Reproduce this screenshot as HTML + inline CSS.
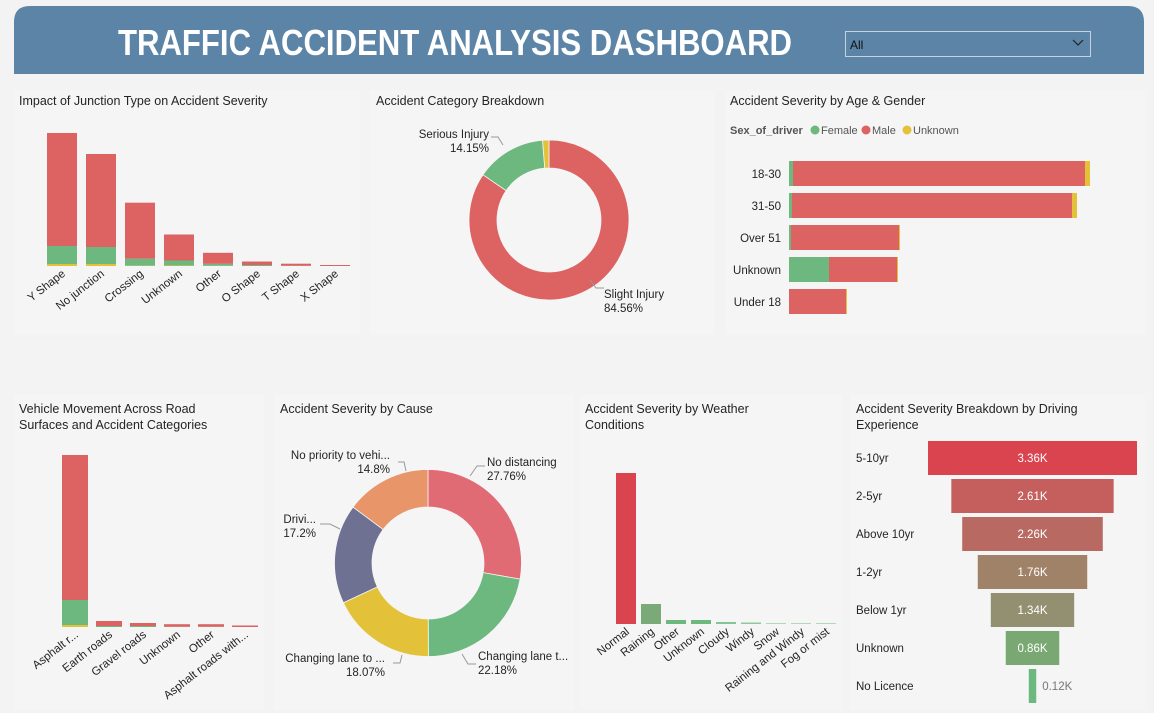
<!DOCTYPE html>
<html><head><meta charset="utf-8"><style>
html,body{margin:0;padding:0;background:#f3f3f3;}
svg{display:block;font-family:"Liberation Sans",sans-serif;}
.t{font-size:12.5px;fill:#252423;}
</style></head><body>
<svg id="s" width="1154" height="713" viewBox="0 0 1154 713" xmlns="http://www.w3.org/2000/svg">
<rect x="0" y="0" width="1154" height="713" fill="#f3f3f3"/>
<rect x="14" y="90" width="346" height="245" fill="#f5f5f5"/>
<rect x="370" y="90" width="345" height="245" fill="#f5f5f5"/>
<rect x="725" y="90" width="420" height="245" fill="#f5f5f5"/>
<rect x="14" y="395" width="250" height="315" fill="#f5f5f5"/>
<rect x="274" y="395" width="300" height="315" fill="#f5f5f5"/>
<rect x="580" y="395" width="262" height="315" fill="#f5f5f5"/>
<rect x="850" y="395" width="295" height="315" fill="#f5f5f5"/>
<path d="M14 74 V22 Q14 6 30 6 H1128 Q1144 6 1144 22 V74 Z" fill="#5b84a7"/>
<text x="118" y="55" fill="#fff" font-family="'Liberation Sans Narrow','Liberation Sans',sans-serif" font-weight="bold" font-size="36" textLength="674" lengthAdjust="spacingAndGlyphs">TRAFFIC ACCIDENT  ANALYSIS DASHBOARD</text>
<g>
<rect x="845.5" y="31.5" width="245" height="25" fill="#5b84a7" stroke="#c8d2dc" stroke-width="1"/>
<text x="850" y="49" font-size="12" fill="#111" font-family="'Liberation Sans Narrow','Liberation Sans',sans-serif">All</text>
<path d="M1073 40 l5 5 l5 -5" fill="none" stroke="#222" stroke-width="1.2"/>
</g>
<text class="t" x="19" y="105">Impact of Junction Type on Accident Severity</text>
<text class="t" x="376" y="105">Accident Category Breakdown</text>
<text class="t" x="730" y="105">Accident Severity by Age &amp; Gender</text>
<text class="t" x="19" y="413">Vehicle Movement Across Road</text>
<text class="t" x="19" y="429">Surfaces and Accident Categories</text>
<text class="t" x="280" y="413">Accident Severity by Cause</text>
<text class="t" x="585" y="413">Accident Severity by Weather</text>
<text class="t" x="585" y="429">Conditions</text>
<text class="t" x="856" y="413">Accident Severity Breakdown by Driving</text>
<text class="t" x="856" y="429">Experience</text>
<g>
<text x="730" y="134" font-size="11" font-weight="bold" fill="#555">Sex_of_driver</text>
<circle cx="815" cy="130" r="4.5" fill="#6cb87e"/><text x="821" y="134" font-size="11" fill="#555">Female</text>
<circle cx="866" cy="130" r="4.5" fill="#dd6262"/><text x="872" y="134" font-size="11" fill="#555">Male</text>
<circle cx="907" cy="130" r="4.5" fill="#e3c23a"/><text x="913" y="134" font-size="11" fill="#555">Unknown</text>
</g>
</svg>
<script>
const NS="http://www.w3.org/2000/svg";
const svg=document.getElementById('s');
function mk(tag,attrs,parent){const e=document.createElementNS(NS,tag);for(const k in attrs)e.setAttribute(k,attrs[k]);(parent||svg).appendChild(e);return e;}
const RED="#dd6262",GREEN="#6cb87e",YEL="#e3c23a";

// Junction chart data
const junctionCats=["Y Shape","No junction","Crossing","Unknown","Other","O Shape","T Shape","X Shape"];
const junctionSlight=[113,93,56,26,11,3.5,2,1];
const junctionSerious=[18,17,7,5,2,1,0.3,0];
const junctionFatal=[2,2,0.3,0.5,0.2,0,0,0];
// Road surface data
const roadCats=["Asphalt r...","Earth roads","Gravel roads","Unknown","Other","Asphalt roads with..."];
const roadSlight=[145,5,3,2.5,2.5,1.5];
const roadSerious=[25,1,1,0.3,0.3,0];
const roadFatal=[2,0,0,0,0,0];
// Age & gender data
const ageCats=["18-30","31-50","Over 51","Unknown","Under 18"];
const ageFemale=[4,3,2,40,0];
const ageMale=[292,280,108,68,57];
const ageUnknown=[5,5,1,1,1];
// Category donut
const catLabels=["Slight Injury","Serious Injury","Fatal Injury"];
const catValues=[84.56,14.15,1.29];
// Cause donut
const causeLabels=["No distancing","Changing lane t...","Changing lane to ...","Drivi...","No priority to vehi..."];
const causeValues=[27.76,22.18,18.07,17.2,14.8];
// Weather data
const weatherCats=["Normal","Raining","Other","Unknown","Cloudy","Windy","Snow","Raining and Windy","Fog or mist"];
const weatherValues=[151,20,4,4,2,1.5,1,1,1];
// Experience funnel
const expCats=["5-10yr","2-5yr","Above 10yr","1-2yr","Below 1yr","Unknown","No Licence"];
const expValues=[3.36,2.61,2.26,1.76,1.34,0.86,0.12];

function stackedColumns(g,cats,series,colors,x0,pitch,bw,base,pxPerUnit,name){
  cats.forEach((c,i)=>{
    let y=base;const x=x0+i*pitch;
    series.forEach((s,j)=>{
      const h=s[i]*pxPerUnit;if(h<=0)return;
      y-=h;
      const r=mk('rect',{x:x,y:y,width:bw,height:h,fill:colors[j]},g);
      
      
    });
    const t=mk('text',{x:x+bw/2+4,y:base+9,'text-anchor':'end','font-size':'11.5',fill:'#252423',transform:`rotate(-38 ${x+bw/2+4} ${base+9})`},g);
    t.textContent=c;
    
    
  });
}
const gj=mk('g',{});
stackedColumns(gj,junctionCats,[junctionFatal,junctionSerious,junctionSlight],[YEL,GREEN,RED],47,39,30,266,1,'junction');
const gr=mk('g',{});
stackedColumns(gr,roadCats,[roadFatal,roadSerious,roadSlight],[YEL,GREEN,RED],62,34,26,627,1,'road');

// weather
const gw=mk('g',{});
const wCol=["#d9444f","#7aaa78","#6cb87e","#6cb87e","#86c495","#8fc89c","#b0d8b9","#b0d8b9","#b0d8b9"];
weatherCats.forEach((c,i)=>{
  const x=616+i*25,h=weatherValues[i];
  const r=mk('rect',{x:x,y:624-h,width:20,height:h,fill:wCol[i]},gw);
  
  
  const t=mk('text',{x:x+14,y:633,'text-anchor':'end','font-size':'11.5',fill:'#252423',transform:`rotate(-38 ${x+14} 633)`},gw);
  t.textContent=c;
  
  
});

// age bars
const ga=mk('g',{});
ageCats.forEach((c,i)=>{
  const y=161+i*32;let x=789;
  [[ageFemale,GREEN],[ageMale,RED],[ageUnknown,YEL]].forEach(([s,col])=>{
    const w=s[i];if(w<=0)return;
    const r=mk('rect',{x:x,y:y,width:w,height:25,fill:col},ga);
    
    
    x+=w;
  });
  const t=mk('text',{x:781,y:y+17,'text-anchor':'end','font-size':'11.5',fill:'#252423'},ga);
  t.textContent=c;
  
  
});

function donut(g,cx,cy,ro,ri,vals,cols,name){
  const tot=vals.reduce((a,b)=>a+b,0);let a0=0;
  vals.forEach((v,i)=>{
    const a1=a0+v/tot*2*Math.PI;
    const p=(a,r)=>[cx+r*Math.sin(a),cy-r*Math.cos(a)];
    const [x1,y1]=p(a0,ro),[x2,y2]=p(a1,ro),[x3,y3]=p(a1,ri),[x4,y4]=p(a0,ri);
    const lg=(a1-a0)>Math.PI?1:0;
    const path=mk('path',{d:`M${x1} ${y1} A${ro} ${ro} 0 ${lg} 1 ${x2} ${y2} L${x3} ${y3} A${ri} ${ri} 0 ${lg} 0 ${x4} ${y4} Z`,fill:cols[i],stroke:'#f5f5f5','stroke-width':'0.8'},g);
    
    
    a0=a1;
  });
}
function lbl(g,x,y,anchor,l1,l2,name){
  const t1=mk('text',{x:x,y:y,'text-anchor':anchor,'font-size':'11.5',fill:'#252423'},g);t1.textContent=l1;
  
  
  const t2=mk('text',{x:x,y:y+14,'text-anchor':anchor,'font-size':'11.5',fill:'#252423'},g);t2.textContent=l2;
  
  
}
const gc=mk('g',{});
donut(gc,549,220,80,52,catValues,[RED,GREEN,YEL],'category');
mk('path',{d:'M604 288 L596 288 L590 280',fill:'none',stroke:'#999'},gc);
mk('path',{d:'M491 137 L498 137 L503 145',fill:'none',stroke:'#999'},gc);
lbl(gc,604,298,'start',catLabels[0],catValues[0]+'%','category-label-slight');
lbl(gc,489,138,'end',catLabels[1],catValues[1]+'%','category-label-serious');

const gk=mk('g',{});
donut(gk,428,563,93.5,56,causeValues,["#e06b75",GREEN,YEL,"#6e7191","#e9956a"],'cause');
mk('path',{d:'M485 466 L477 466 L470 476',fill:'none',stroke:'#999'},gk);
mk('path',{d:'M476 664 L468 664 L462 654',fill:'none',stroke:'#999'},gk);
mk('path',{d:'M393 663 L400 663 L402 655',fill:'none',stroke:'#999'},gk);
mk('path',{d:'M320 524 L330 524 L340 529',fill:'none',stroke:'#999'},gk);
mk('path',{d:'M398 462 L404 462 L406 471',fill:'none',stroke:'#999'},gk);
lbl(gk,487,466,'start',causeLabels[0],causeValues[0]+'%','cause-label-no-distancing');
lbl(gk,478,660,'start',causeLabels[1],causeValues[1]+'%','cause-label-changing-lane-left');
lbl(gk,385,662,'end',causeLabels[2],causeValues[2]+'%','cause-label-changing-lane-right');
lbl(gk,316,523,'end',causeLabels[3],causeValues[3]+'%','cause-label-driving');
lbl(gk,390,459,'end',causeLabels[4],causeValues[4]+'%','cause-label-no-priority');

// funnel
const gf=mk('g',{});
const fCol=["#d9444f","#c45f5d","#b86a62","#a08268","#929070","#7aa872","#6cb87e"];
const fMax=Math.max(...expValues);
expCats.forEach((c,i)=>{
  const w=expValues[i]/fMax*209,y=441+i*38,x=1032.5-w/2;
  const r=mk('rect',{x:x,y:y,width:w,height:34,fill:fCol[i]},gf);
  
  
  const inside=w>40;
  const v=mk('text',{x:inside?1032.5:x+w+6,y:y+21,'text-anchor':inside?'middle':'start','font-size':'11.5',fill:inside?'#fff':'#777'},gf);
  v.textContent=expValues[i].toFixed(2)+'K';
  
  
  const t=mk('text',{x:856,y:y+21,'font-size':'11.5',fill:'#252423'},gf);
  t.textContent=c;
  
  
});
</script>
</body></html>
